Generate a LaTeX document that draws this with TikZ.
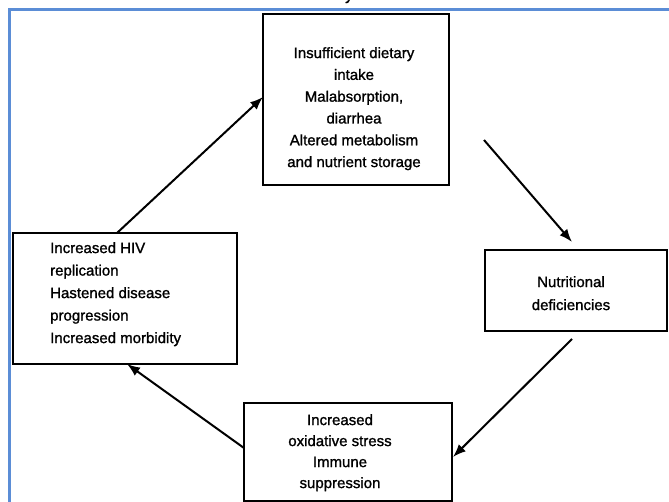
\documentclass[tikz,border=0pt]{standalone}
\usepackage{fontspec}
\setmainfont{Liberation Sans}[FakeBold=1.2]
\newfontfamily\heavyfont{Liberation Sans}[FakeBold=1.2]
\usetikzlibrary{arrows.meta}
\definecolor{frameblue}{RGB}{91,141,214}
\begin{document}
\begin{tikzpicture}[x=1pt,y=-1pt,
  box/.style={draw,line width=1.8pt,inner sep=0pt,outer sep=0pt,anchor=north west},
  txt/.style={inner sep=0pt,font=\heavyfont\fontsize{15}{22}\selectfont},
  arr/.style={line width=2pt,-{Latex[length=13pt,width=10pt]}}]
\useasboundingbox (0,0) rectangle (669,502);
\clip (0,0) rectangle (669,502);
\fill[white] (0,0) rectangle (669,502);
\draw[frameblue,line width=2.5pt] (675,9.5) -- (9.5,9.5) -- (9.5,510);
\node[txt,anchor=base] (cap) at (349,0) {y};
% boxes
\node[box,minimum width=186pt,minimum height=171pt] (tb) at (263,14) {};
\node[box,minimum width=224pt,minimum height=131pt] (lb) at (13,233) {};
\node[box,minimum width=182pt,minimum height=81pt] (rb) at (485,250) {};
\node[box,minimum width=208pt,minimum height=98pt] (bb) at (244,403) {};
% texts
\node[txt,align=center,anchor=north,font=\heavyfont\fontsize{15}{21.8}\selectfont] (tbt) at (354,47) {Insufficient dietary\\intake\\Malabsorption,\\diarrhea\\Altered metabolism\\and nutrient storage};
\node[txt,align=left,anchor=north west,font=\heavyfont\fontsize{15}{22.5}\selectfont] (lbt) at (50,242) {Increased HIV\\replication\\Hastened disease\\progression\\Increased morbidity};
\node[txt,align=center,anchor=north,font=\heavyfont\fontsize{15}{23}\selectfont] (rbt) at (571,276) {Nutritional\\deficiencies};
\node[txt,align=center,anchor=north,font=\heavyfont\fontsize{15}{21}\selectfont] (bbt) at (340,414) {Increased\\oxidative stress\\Immune\\suppression};
% arrows
\coordinate (s2) at (484,140);
\draw[arr] ([xshift=104pt]lb.north west) -- ([yshift=-83pt]tb.north west);
\draw[arr] (s2) -- ([xshift=87pt,yshift=8pt]rb.north west);
\draw[arr] ([xshift=87pt,yshift=-8pt]rb.south west) -- ([xshift=1pt,yshift=-54pt]bb.north east);
\draw[arr] ([yshift=-45pt]bb.north west) -- ([xshift=114pt]lb.south west);
\end{tikzpicture}
\end{document}
